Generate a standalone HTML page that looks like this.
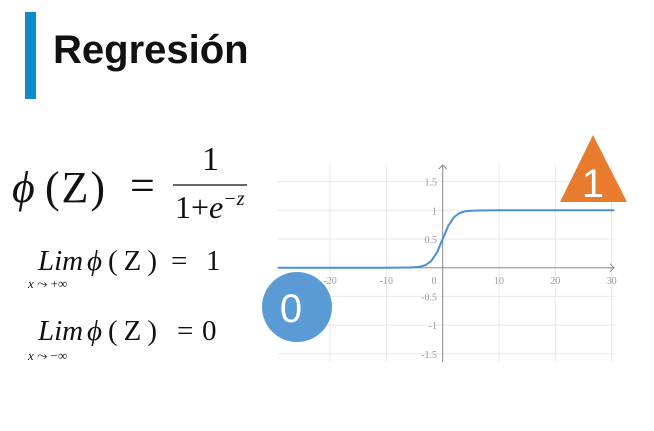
<!DOCTYPE html>
<html><head><meta charset="utf-8"><style>
body{margin:0;width:654px;height:431px;background:#fff;overflow:hidden;position:relative;font-family:"Liberation Serif",serif;}
.a{position:absolute;white-space:nowrap;}
</style></head><body>
<div class="a" style="left:25px;top:12px;width:11px;height:87px;background:#0E8BCB"></div>
<div class="a" style="left:53px;top:28px;font:bold 40px 'Liberation Sans',sans-serif;color:#111">Regresión</div>

<svg class="a" style="left:0;top:0" width="654" height="431">
 <g font-family="Liberation Serif, serif" fill="#111">
  <text x="12" y="202" font-size="44" font-style="italic">ϕ</text>
  <text x="45" y="202" font-size="44" textLength="60">(Z)</text>
  <text x="130" y="200" font-size="44">=</text>
  <text x="202" y="170" font-size="34">1</text>
  <line x1="173" y1="185" x2="247" y2="185" stroke="#333" stroke-width="1.5"/>
  <text x="175" y="218" font-size="32">1+<tspan font-style="italic">e</tspan><tspan font-size="20" dy="-13" font-style="italic">−z</tspan></text>

  <text x="38" y="270" font-size="29" font-style="italic">Lim</text>
  <text x="87" y="270" font-size="29" font-style="italic">ϕ</text>
  <text x="108" y="270" font-size="29" textLength="49">(Z)</text>
  <text x="171" y="270" font-size="29">=</text>
  <text x="206" y="270" font-size="29">1</text>
  <text x="28" y="288" font-size="13" font-style="italic">x <tspan font-style="normal">⤳ +∞</tspan></text>

  <text x="38" y="340" font-size="29" font-style="italic">Lim</text>
  <text x="87" y="340" font-size="29" font-style="italic">ϕ</text>
  <text x="108" y="340" font-size="29" textLength="49">(Z)</text>
  <text x="177" y="340" font-size="29">=</text>
  <text x="202" y="340" font-size="29">0</text>
  <text x="28" y="360" font-size="13" font-style="italic">x <tspan font-style="normal">⤳ −∞</tspan></text>
 </g>
 <g id="chart"></g>
 <polygon points="593,135 560,202 627,202" fill="#E97B2E"/>
 <text x="593" y="197" font-size="40" text-anchor="middle" fill="#fff" font-family="Liberation Sans, sans-serif">1</text>
 <circle cx="297" cy="307" r="35" fill="#5B9BD5"/>
 <text x="291" y="322" font-size="40" text-anchor="middle" fill="#fff" font-family="Liberation Sans, sans-serif">0</text>
</svg>
<script>
const xTicks=[-20,-10,10,20,30];
const yTicks=[1.5,1,0.5,-0.5,-1,-1.5];
const curveX=[-29.3,-10,-6,-5,-4,-3,-2,-1,0,1,2,3,4,5,6,10,30.5];
const curveY=[0,0,0.003,0.007,0.018,0.047,0.12,0.27,0.5,0.73,0.88,0.953,0.982,0.993,0.997,1,1];
const NS='http://www.w3.org/2000/svg';
const X=v=>442.7+v*5.63, Y=v=>267.7-v*57.4;
const g=document.getElementById('chart');
function mk(t,a){const e=document.createElementNS(NS,t);for(const k in a)e.setAttribute(k,a[k]);g.appendChild(e);return e;}
xTicks.forEach(v=>{
 const l=mk('line',{x1:X(v),x2:X(v),y1:165,y2:362,stroke:'#e8e8e8'});
 
 
 const t=mk('text',{x:X(v),y:284,'font-size':10,'text-anchor':'middle',fill:'#999'});t.textContent=v;
 
 
});
yTicks.forEach(v=>{
 const l=mk('line',{x1:278,x2:615,y1:Y(v),y2:Y(v),stroke:'#e8e8e8'});
 
 
 const t=mk('text',{x:437,y:Y(v)+4,'font-size':10,'text-anchor':'end',fill:'#999'});t.textContent=v;
 
 
});
const o=mk('text',{x:434,y:284,'font-size':10,'text-anchor':'middle',fill:'#999'});o.textContent='0';


const ax=mk('path',{d:'M278 267.7H614 M610 263.7L614 267.7L610 271.7',stroke:'#888',fill:'none','stroke-width':1});


const ay=mk('path',{d:'M442.7 362V165 M438.7 169L442.7 165L446.7 169',stroke:'#888',fill:'none','stroke-width':1});


const c=mk('path',{d:curveX.map((v,i)=>(i?'L':'M')+X(v).toFixed(1)+' '+Y(curveY[i]).toFixed(1)).join(''),stroke:'#4A8FDB',fill:'none','stroke-width':2,'stroke-linejoin':'round'});


</script>
</body></html>
